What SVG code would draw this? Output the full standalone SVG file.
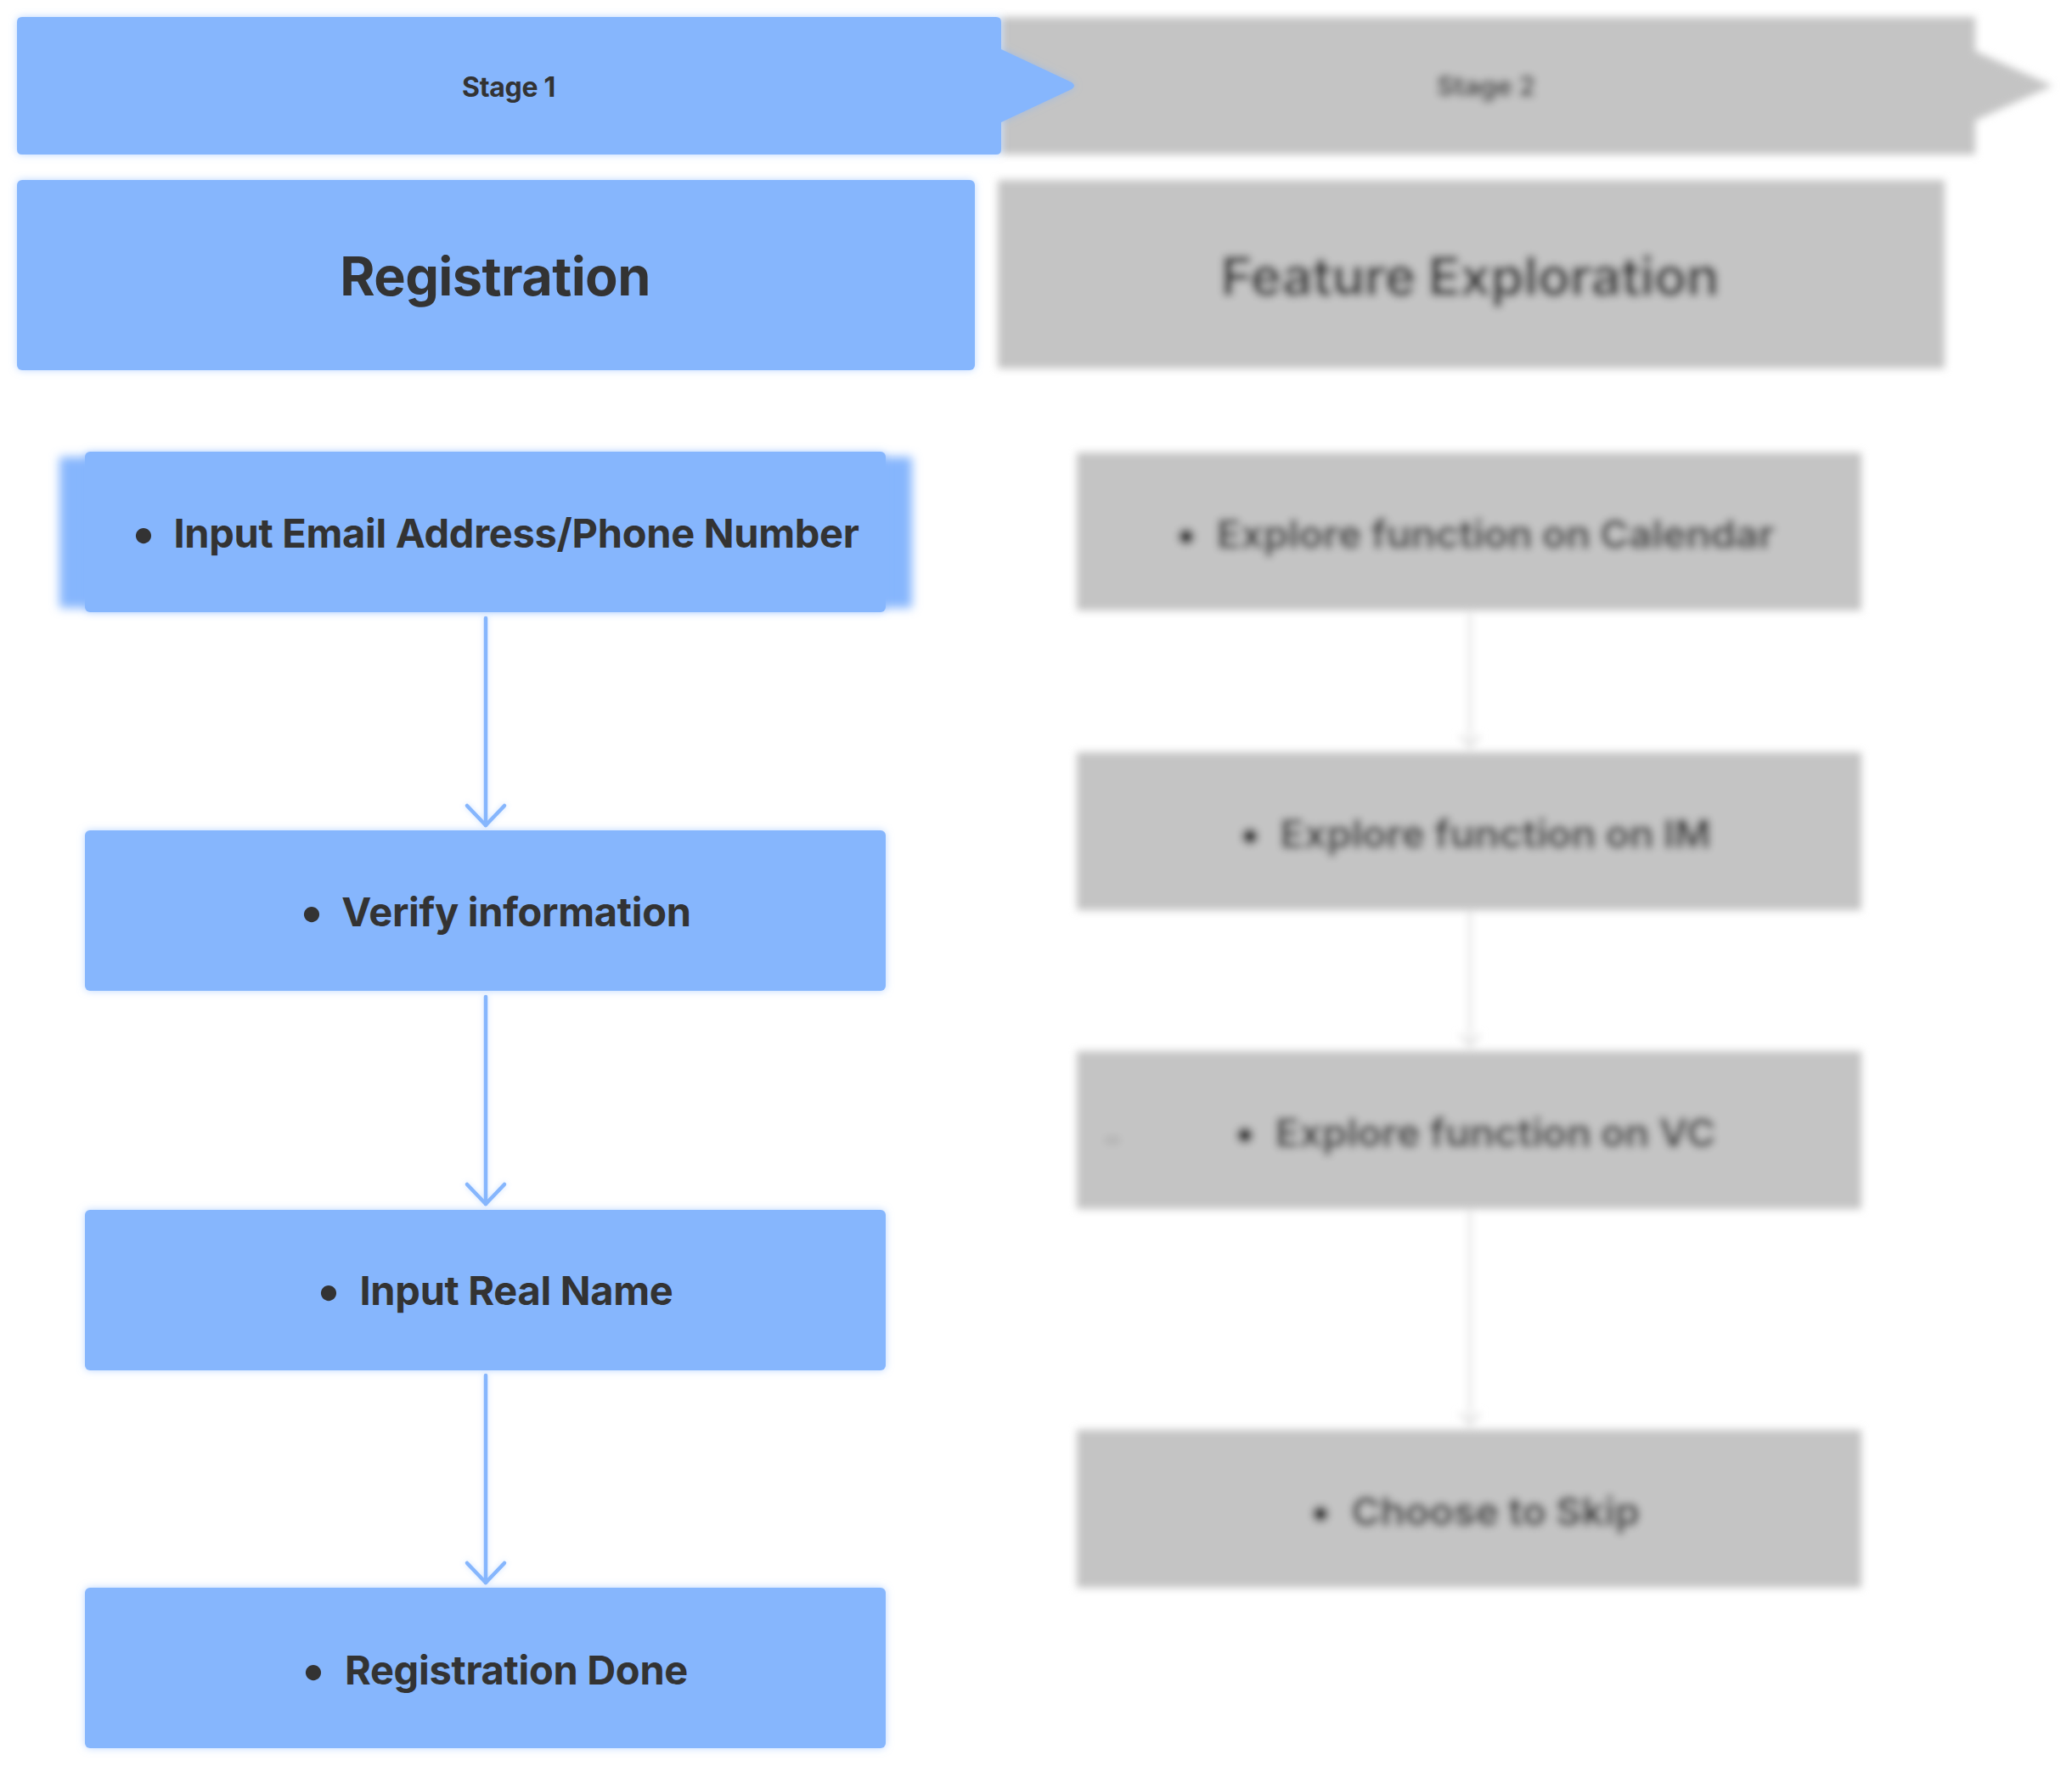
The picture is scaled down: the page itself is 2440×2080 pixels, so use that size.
<svg xmlns="http://www.w3.org/2000/svg" width="2440" height="2080" viewBox="0 0 2440 2080">
<defs>
<style>
.blue{fill:#86b6fd}
.grey{fill:#c4c4c4}
.t{font-family:Inter,"Liberation Sans",sans-serif;font-weight:700;fill:#333333}
.node{font-size:47px;letter-spacing:-0.3px}
.bul{font-size:58px}
.title{font-size:63px;letter-spacing:-0.6px}
.stage{font-size:32px;letter-spacing:-0.3px}
.mid{text-anchor:middle}
.conn{stroke:#86b6fd;stroke-width:4.5;fill:none;stroke-linecap:round}
.gconn{stroke:#e2e2e2;stroke-width:4;fill:none}
</style>
<filter id="glow" x="-10%" y="-20%" width="120%" height="140%">
<feDropShadow dx="0" dy="0" stdDeviation="5" flood-color="#86b6fd" flood-opacity="0.55"/>
</filter>
<filter id="lglow" filterUnits="userSpaceOnUse" x="0" y="0" width="2440" height="2080">
<feDropShadow dx="0" dy="0" stdDeviation="3" flood-color="#86b6fd" flood-opacity="0.4"/>
</filter>
<filter id="halo" x="-10%" y="-20%" width="120%" height="140%">
<feGaussianBlur stdDeviation="6"/>
</filter>
<filter id="blurR" filterUnits="userSpaceOnUse" x="1100" y="0" width="1340" height="2080">
<feGaussianBlur stdDeviation="5"/>
</filter>
<marker id="ah" markerUnits="userSpaceOnUse" viewBox="-30 -30 60 60" markerWidth="60" markerHeight="60" refX="0" refY="0" orient="auto">
<path d="M-23,-22 L0,0 L-23,22" fill="none" stroke="#86b6fd" stroke-width="4.5" stroke-linecap="round" stroke-linejoin="round"/>
</marker>
<marker id="gah" markerUnits="userSpaceOnUse" viewBox="-20 -20 40 40" markerWidth="40" markerHeight="40" refX="0" refY="0" orient="auto">
<path d="M-14,-12 L0,0 L-14,12" fill="none" stroke="#e2e2e2" stroke-width="4"/>
</marker>
</defs>
<rect width="2440" height="2080" fill="#ffffff"/>

<!-- Stage 2 side (blurred, grey) -->
<g id="stage2" filter="url(#blurR)">
<g id="stage2-banner">
<path class="grey" d="M1179,20 H2326 V60 L2417,101 L2326,142 V182 H1179 Z"/>
<text class="t stage mid" x="1750" y="113">Stage 2</text>
</g>
<g id="feature-exploration">
<rect class="grey" x="1175" y="212" width="1115" height="222"/>
<text class="t title mid" x="1731" y="348">Feature Exploration</text>
</g>
<g id="connectors-right">
<line class="gconn" x1="1731" y1="722" x2="1731" y2="880" marker-end="url(#gah)"/>
<line class="gconn" x1="1731" y1="1073" x2="1731" y2="1232" marker-end="url(#gah)"/>
<line class="gconn" x1="1731" y1="1426" x2="1731" y2="1678" marker-end="url(#gah)"/>
</g>
<g id="explore-calendar">
<rect class="grey" x="1268" y="533" width="924" height="186"/>
<text class="t bul mid" x="1397" y="649">•</text>
<text class="t node mid" x="1761" y="646">Explore function on Calendar</text>
</g>
<g id="explore-im">
<rect class="grey" x="1268" y="886" width="924" height="186"/>
<text class="t bul mid" x="1472" y="1002">•</text>
<text class="t node mid" x="1761" y="999">Explore function on IM</text>
</g>
<g id="explore-vc">
<rect class="grey" x="1268" y="1238" width="924" height="186"/>
<ellipse cx="1310" cy="1343" rx="10" ry="5" fill="#a8a8a8" opacity="0.6"/>
<text class="t bul mid" x="1466" y="1354">•</text>
<text class="t node mid" x="1761" y="1351">Explore function on VC</text>
</g>
<g id="choose-skip">
<rect class="grey" x="1268" y="1684" width="924" height="186"/>
<text class="t bul mid" x="1555" y="1800">•</text>
<text class="t node mid" x="1761" y="1797">Choose to Skip</text>
</g>
</g>

<!-- Stage 1 side -->
<g id="stage1-banner">
<path class="blue" filter="url(#glow)" d="M26,20 H1173 Q1179,20 1179,26 V58 L1262,97 Q1268,101 1262,105 L1179,144 V176 Q1179,182 1173,182 H26 Q20,182 20,176 V26 Q20,20 26,20 Z"/>
<text class="t stage mid" x="599" y="114">Stage 1</text>
</g>
<g id="registration">
<rect class="blue" filter="url(#glow)" x="20" y="212" width="1128" height="224" rx="6"/>
<text class="t title mid" x="583" y="348">Registration</text>
</g>

<g id="connectors-left" filter="url(#lglow)">
<line class="conn" x1="572" y1="728" x2="572" y2="972" marker-end="url(#ah)"/>
<line class="conn" x1="572" y1="1174" x2="572" y2="1418" marker-end="url(#ah)"/>
<line class="conn" x1="572" y1="1620" x2="572" y2="1864" marker-end="url(#ah)"/>
</g>

<g id="input-email">
<rect class="blue" filter="url(#halo)" x="70" y="538" width="1004" height="178"/>
<rect class="blue" filter="url(#glow)" x="100" y="532" width="943" height="189" rx="6"/>
<text class="t bul mid" x="169" y="648">•</text>
<text class="t node mid" x="608" y="645">Input Email Address/Phone Number</text>
</g>
<g id="verify">
<rect class="blue" filter="url(#glow)" x="100" y="978" width="943" height="189" rx="6"/>
<text class="t bul mid" x="367" y="1094">•</text>
<text class="t node mid" x="608" y="1091">Verify information</text>
</g>
<g id="input-name">
<rect class="blue" filter="url(#glow)" x="100" y="1425" width="943" height="189" rx="6"/>
<text class="t bul mid" x="387" y="1540">•</text>
<text class="t node mid" x="608" y="1537">Input Real Name</text>
</g>
<g id="registration-done">
<rect class="blue" filter="url(#glow)" x="100" y="1870" width="943" height="189" rx="6"/>
<text class="t bul mid" x="369" y="1987">•</text>
<text class="t node mid" x="608" y="1984">Registration Done</text>
</g>
</svg>
